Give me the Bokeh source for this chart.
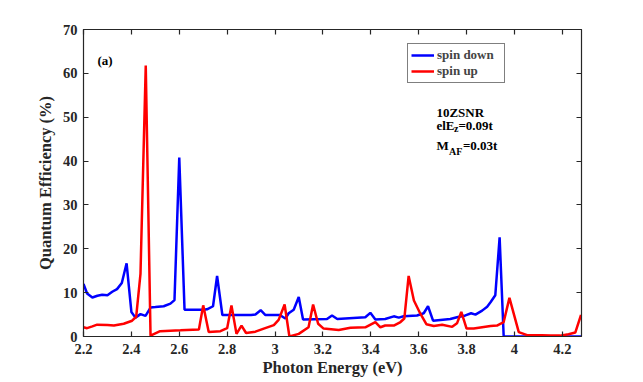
from bokeh.plotting import figure
from bokeh.models import (LinearAxis, FixedTicker, PrintfTickFormatter, Label, Range1d)
from bokeh.embed import file_html
from bokeh.resources import INLINE

# ---- data ----
down_x = [2.200, 2.215, 2.237, 2.258, 2.278, 2.300, 2.320, 2.340, 2.360, 2.380,
          2.400, 2.417, 2.438, 2.459, 2.480, 2.500, 2.535, 2.563, 2.580, 2.600,
          2.622, 2.700, 2.716, 2.741, 2.758, 2.780, 2.900, 2.918, 2.940, 2.960,
          3.020, 3.043, 3.057, 3.078, 3.099, 3.117, 3.217, 3.238, 3.260, 3.377,
          3.398, 3.419, 3.460, 3.496, 3.517, 3.537, 3.593, 3.621, 3.639, 3.660,
          3.732, 3.760, 3.795, 3.819, 3.837, 3.865, 3.886, 3.900, 3.920, 3.938,
          3.955, 4.280]
down_y = [12.0, 9.8, 8.9, 9.3, 9.5, 9.4, 10.2, 10.8, 12.2, 16.7,
          5.6, 4.3, 5.1, 4.7, 6.6, 6.7, 6.9, 7.5, 8.3, 40.8,
          6.1, 6.1, 6.2, 6.9, 13.8, 4.9, 4.9, 5.0, 6.0, 4.9,
          4.9, 4.1, 5.3, 6.1, 9.0, 3.9, 4.0, 4.8, 4.0, 4.4,
          5.4, 3.9, 4.0, 4.6, 4.3, 4.6, 4.8, 5.3, 6.9, 3.6,
          4.0, 4.4, 4.8, 5.3, 5.0, 5.9, 6.8, 7.8, 9.4, 22.6,
          0.0, 0.0]

up_x = [2.200, 2.215, 2.237, 2.257, 2.300, 2.327, 2.368, 2.403, 2.420, 2.438,
        2.460, 2.480, 2.520, 2.605, 2.682, 2.700, 2.723, 2.772, 2.800, 2.818,
        2.839, 2.860, 2.879, 2.918, 2.953, 2.995, 3.015, 3.040, 3.060, 3.099,
        3.140, 3.159, 3.180, 3.203, 3.266, 3.315, 3.377, 3.419, 3.440, 3.460,
        3.496, 3.524, 3.540, 3.558, 3.580, 3.607, 3.632, 3.663, 3.698, 3.740,
        3.760, 3.778, 3.800, 3.830, 3.865, 3.900, 3.927, 3.955, 3.979, 4.018,
        4.053, 4.115, 4.150, 4.190, 4.226, 4.254, 4.278]
up_y = [2.1, 1.9, 2.3, 2.7, 2.6, 2.5, 2.9, 3.6, 4.5, 14.3,
        61.8, 0.2, 1.2, 1.4, 1.6, 7.1, 1.0, 1.2, 1.9, 7.1,
        0.6, 2.5, 0.8, 1.1, 1.8, 2.6, 3.8, 7.3, 0.0, 0.6,
        2.1, 7.3, 2.9, 1.8, 1.5, 2.0, 2.1, 3.3, 2.1, 2.5,
        2.5, 3.3, 4.1, 13.8, 8.2, 5.2, 2.8, 2.4, 2.7, 2.2,
        3.0, 5.6, 1.8, 1.8, 2.1, 2.4, 2.5, 3.3, 8.8, 1.0,
        0.3, 0.3, 0.2, 0.2, 0.5, 0.9, 4.9]

x_ticks = [2.2, 2.4, 2.6, 2.8, 3.0, 3.2, 3.4, 3.6, 3.8, 4.0, 4.2]
y_ticks = [0, 10, 20, 30, 40, 50, 60, 70]

FONT = "Liberation Serif"
AX = "#262626"

p = figure(width=643, height=382, x_range=Range1d(2.2, 4.28), y_range=Range1d(0, 70),
           output_backend="svg", toolbar_location=None,
           min_border_left=83, min_border_right=62, min_border_top=29, min_border_bottom=46)
p.background_fill_color = "white"
p.border_fill_color = "white"
p.outline_line_color = AX
p.grid.visible = False

p.line(down_x, down_y, color="#0000FF", line_width=2.5, legend_label="spin down")
p.line(up_x, up_y, color="#FF0000", line_width=2.5, legend_label="spin up")


def style_axis(ax, show_labels=True):
    ax.axis_line_color = AX
    ax.axis_line_width = 1.2
    ax.major_tick_line_color = AX
    ax.major_tick_line_width = 1.2
    ax.major_tick_in = 5
    ax.major_tick_out = 0
    ax.minor_tick_line_color = None
    ax.major_label_text_font = FONT
    ax.major_label_text_font_style = "bold"
    ax.major_label_text_font_size = "14.5px"
    ax.major_label_text_color = AX if show_labels else None


xt = FixedTicker(ticks=x_ticks)
yt = FixedTicker(ticks=y_ticks)

p.xaxis.ticker = xt
p.xaxis.formatter = PrintfTickFormatter(format="%g")
p.yaxis.ticker = yt
for ax in p.xaxis + p.yaxis:
    style_axis(ax)
p.xaxis.major_label_standoff = 7
p.yaxis.major_label_standoff = 6

for ax, lab, so in ((p.yaxis, "Quantum Efficiency (%)", 5), (p.xaxis, "Photon Energy (eV)", 1)):
    ax.axis_label = lab
    ax.axis_label_text_font = FONT
    ax.axis_label_text_font_style = "bold"
    ax.axis_label_text_font_size = "16.5px"
    ax.axis_label_text_color = AX
    ax.axis_label_standoff = so

top = LinearAxis(ticker=FixedTicker(ticks=x_ticks))
style_axis(top, False)
p.add_layout(top, "above")
right = LinearAxis(ticker=FixedTicker(ticks=y_ticks))
style_axis(right, False)
p.add_layout(right, "right")

# legend
leg = p.legend[0]
leg.location = (324, 253)
leg.border_line_color = "black"
leg.border_line_width = 1
leg.background_fill_alpha = 1
leg.label_text_font = FONT
leg.label_text_font_style = "bold"
leg.label_text_font_size = "13px"
leg.label_height = 16
leg.glyph_height = 16
leg.glyph_width = 23
leg.label_standoff = 3
leg.label_width = 64
leg.spacing = 0
leg.padding = 3
leg.margin = 0


def txt(x, y, s, size="13px", xo=0, yo=0):
    p.add_layout(Label(x=x, y=y, text=s, x_offset=xo, y_offset=yo,
                       text_align="left", text_baseline="alphabetic",
                       text_font=FONT, text_font_style="bold",
                       text_font_size=size, text_color="black"))


txt(2.258, 63.0, "(a)")
txt(3.674, 51.1, "10ZSNR")
txt(3.674, 48.1, "elE")
txt(3.674, 48.1, "z", size="10px", xo=17.5, yo=-3)
txt(3.674, 48.1, "=0.09t", xo=22)
txt(3.674, 43.5, "M")
txt(3.674, 43.5, "AF", size="10px", xo=12.5, yo=-6)
txt(3.674, 43.5, "=0.03t", xo=26.5)

open("out.html", "w").write(file_html(p, INLINE))
